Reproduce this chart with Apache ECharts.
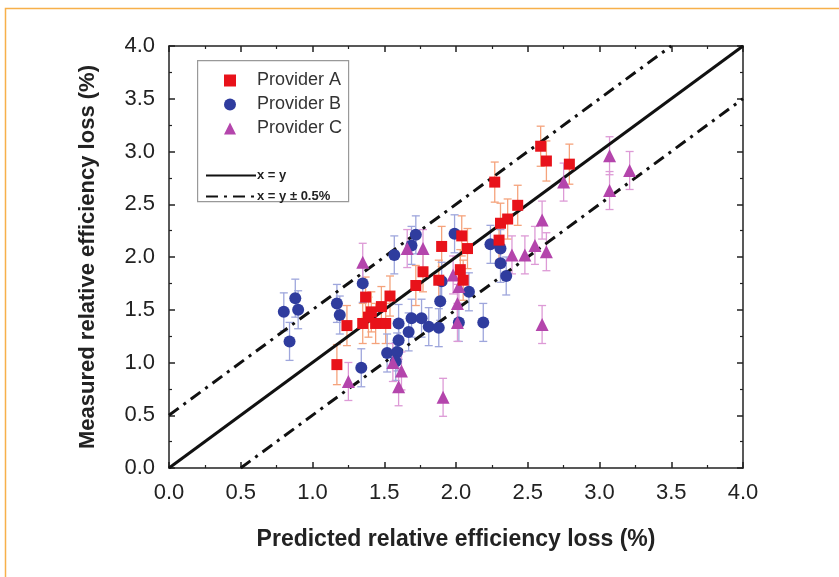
<!DOCTYPE html>
<html>
<head>
<meta charset="utf-8">
<script src="https://cdn.jsdelivr.net/npm/echarts@6/dist/echarts.min.js"></script>
<style>
  html, body { margin: 0; padding: 0; background: #fff; }
  #chart { width: 839px; height: 577px; }
</style>
</head>
<body>
<div id="chart"></div>
<script>
// Predicted vs measured relative efficiency loss, three providers
var providerA = [
  [1.17, 0.98], [1.24, 1.35], [1.37, 1.62], [1.35, 1.37], [1.41, 1.48],
  [1.39, 1.43], [1.44, 1.37], [1.51, 1.37], [1.48, 1.53], [1.54, 1.63],
  [1.72, 1.73], [1.77, 1.86], [1.88, 1.78], [1.90, 2.10], [2.03, 1.88],
  [2.05, 1.78], [2.04, 2.20], [2.08, 2.08], [2.27, 2.71], [2.30, 2.16],
  [2.31, 2.32], [2.36, 2.36], [2.43, 2.49], [2.59, 3.05], [2.63, 2.91],
  [2.79, 2.88]
];
var providerB = [
  [0.80, 1.48], [0.88, 1.61], [0.90, 1.50], [0.84, 1.20], [1.17, 1.56],
  [1.19, 1.45], [1.34, 0.95], [1.35, 1.75], [1.57, 2.02], [1.69, 2.11],
  [1.72, 2.21], [1.99, 2.22], [2.24, 2.12], [2.31, 2.08], [2.31, 1.94],
  [2.35, 1.82], [1.90, 1.77], [2.09, 1.67], [1.89, 1.58], [1.60, 1.37],
  [1.69, 1.42], [1.76, 1.42], [1.67, 1.29], [1.60, 1.21], [1.52, 1.09],
  [1.59, 1.10], [1.58, 1.01], [1.81, 1.34], [1.88, 1.33], [2.02, 1.38],
  [2.19, 1.38]
];
var providerC = [
  [1.35, 1.95], [1.25, 0.82], [1.60, 0.77], [1.62, 0.92], [1.56, 1.00],
  [1.66, 2.08], [1.77, 2.08], [1.98, 1.83], [2.02, 1.72], [2.01, 1.56],
  [2.01, 1.38], [1.91, 0.67], [2.39, 2.02], [2.48, 2.02], [2.55, 2.11],
  [2.60, 2.35], [2.63, 2.05], [2.60, 1.36], [2.75, 2.71], [3.07, 2.96],
  [3.07, 2.63], [3.21, 2.82]
];
// half-width of the vertical error bars (%)
var errA = 0.19;
var errB = 0.18;
var errC = 0.18;

// reference lines
var lineEqual = [[0, 0], [4, 4]];
var lineUpper = [[0, 0.5], [3.5, 4]];
var lineLower = [[0.5, 0], [4, 3.5]];

var colA = '#e8121a', colB = '#2f3c9e', colC = '#b445ac';
var errColA = '#f5a37c', errColB = '#9ea6dc', errColC = '#dd9ad6';

function withErr(pts, e) {
  return pts.map(function (p) { return [p[0], p[1], e]; });
}

function errorBars(params, api) {
  var x = api.value(0), y = api.value(1), e = api.value(2);
  var hi = api.coord([x, y + e]);
  var lo = api.coord([x, y - e]);
  var cap = 4;
  var style = { stroke: api.visual('color'), lineWidth: 1.3 };
  return {
    type: 'group',
    children: [
      { type: 'line', shape: { x1: hi[0], y1: hi[1], x2: lo[0], y2: lo[1] }, style: style },
      { type: 'line', shape: { x1: hi[0] - cap, y1: hi[1], x2: hi[0] + cap, y2: hi[1] }, style: style },
      { type: 'line', shape: { x1: lo[0] - cap, y1: lo[1], x2: lo[0] + cap, y2: lo[1] }, style: style }
    ]
  };
}

var tickFont = { fontFamily: '"Liberation Sans", Arial, sans-serif', fontSize: 22, color: '#222' };
var axisLineStyle = { color: '#222', width: 1.5 };

function baseAxis(extra) {
  var a = {
    min: 0, max: 4, interval: 0.5,
    axisLine: { show: true, onZero: false, lineStyle: axisLineStyle },
    axisTick: { show: true, inside: true, length: 6, lineStyle: axisLineStyle },
    minorTick: { show: true, splitNumber: 2, length: 3, lineStyle: { color: '#222', width: 1.2 } },
    splitLine: { show: false }
  };
  for (var k in extra) a[k] = extra[k];
  return a;
}

var chart = echarts.init(document.getElementById('chart'), null, { renderer: 'canvas' });

var option = {
  backgroundColor: '#fff',
  animation: false,
  grid: { left: 169, right: 96, top: 46, bottom: 109, containLabel: false },
  xAxis: [
    baseAxis({
      type: 'value', position: 'bottom',
      name: 'Predicted relative efficiency loss (%)',
      nameLocation: 'middle', nameGap: 60,
      nameTextStyle: { fontFamily: '"Liberation Sans", Arial, sans-serif', fontWeight: 'bold', fontSize: 23, color: '#222' },
      axisLabel: Object.assign({ margin: 14, formatter: function (v) { return v.toFixed(1); } }, tickFont)
    }),
    baseAxis({ type: 'value', position: 'top', axisLabel: { show: false } })
  ],
  yAxis: [
    baseAxis({
      type: 'value', position: 'left',
      name: 'Measured relative efficiency loss (%)',
      nameLocation: 'middle', nameGap: 70,
      nameTextStyle: { fontFamily: '"Liberation Sans", Arial, sans-serif', fontWeight: 'bold', fontSize: 22, color: '#222' },
      axisLabel: Object.assign({ margin: 14, formatter: function (v) { return v.toFixed(1); } }, tickFont)
    }),
    baseAxis({ type: 'value', position: 'right', axisLabel: { show: false } })
  ],
  legend: [
    {
      data: ['Provider A', 'Provider B', 'Provider C'],
      orient: 'vertical', left: 219, top: 66,
      itemGap: 5, itemWidth: 12, itemHeight: 12,
      textStyle: { fontFamily: '"Liberation Sans", Arial, sans-serif', fontSize: 18, color: '#333', padding: [0, 0, 0, 16], lineHeight: 19 }
    },
    {
      data: ['x = y', 'x = y \u00b1 0.5%'],
      orient: 'vertical', left: 200, top: 164,
      itemGap: 8, itemWidth: 50, itemHeight: 14,
      itemStyle: { opacity: 0 },
      lineStyle: { opacity: 1 },
      textStyle: { fontFamily: '"Liberation Sans", Arial, sans-serif', fontSize: 13, fontWeight: 'bold', color: '#222', padding: [0, 0, 0, -4] }
    }
  ],
  graphic: [
    // outer frame
    { type: 'rect', left: 3, top: 6, shape: { width: 900, height: 700 }, style: { fill: 'none', stroke: '#f7b04a', lineWidth: 1.5 }, silent: true, z: -10 },
    // legend box
    { type: 'rect', left: 197, top: 60, shape: { width: 151, height: 141 }, style: { fill: '#fff', stroke: '#999', lineWidth: 1.2 }, z: 4 }
  ],
  series: [
    { name: 'x = y', type: 'line', data: lineEqual, symbol: 'none', showSymbol: false, z: 3,
      lineStyle: { color: '#111', width: 3 }, itemStyle: { color: '#111' } },
    { name: 'x = y \u00b1 0.5%', type: 'line', data: lineUpper, symbol: 'none', showSymbol: false, z: 3,
      lineStyle: { color: '#111', width: 3, type: [12, 6, 3, 6] }, itemStyle: { color: '#111' } },
    { name: 'x = y \u00b1 0.5%', type: 'line', data: lineLower, symbol: 'none', showSymbol: false, z: 3,
      lineStyle: { color: '#111', width: 3, type: [12, 6, 3, 6] }, itemStyle: { color: '#111' } },

    { type: 'custom', renderItem: errorBars, data: withErr(providerA, errA), itemStyle: { color: errColA }, z: 2, silent: true },
    { type: 'custom', renderItem: errorBars, data: withErr(providerB, errB), itemStyle: { color: errColB }, z: 2, silent: true },
    { type: 'custom', renderItem: errorBars, data: withErr(providerC, errC), itemStyle: { color: errColC }, z: 2, silent: true },

    { name: 'Provider B', type: 'scatter', data: providerB, symbol: 'circle', symbolSize: 12, itemStyle: { color: colB, opacity: 1 }, z: 5 },
    { name: 'Provider C', type: 'scatter', data: providerC, symbol: 'triangle', symbolSize: 13, itemStyle: { color: colC, opacity: 1 }, z: 5 },
    { name: 'Provider A', type: 'scatter', data: providerA, symbol: 'rect', symbolSize: 11, itemStyle: { color: colA, opacity: 1 }, z: 6 }
  ]
};

chart.setOption(option);
</script>
</body>
</html>
